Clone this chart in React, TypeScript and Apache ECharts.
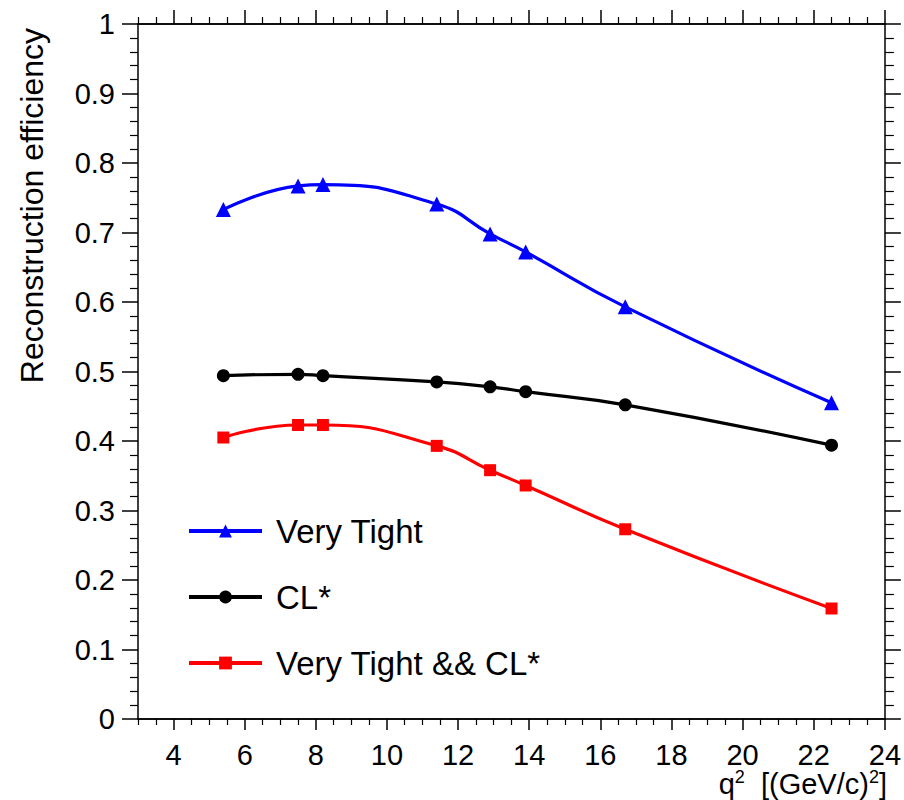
import React, { useEffect, useRef } from "react";
import * as echarts from "echarts";

const qSquared = [5.4, 7.5, 8.2, 11.4, 12.9, 13.9, 16.7, 22.5];
const veryTight = [0.733, 0.767, 0.769, 0.741, 0.698, 0.672, 0.593, 0.455];
const clStar = [0.494, 0.496, 0.494, 0.485, 0.478, 0.471, 0.452, 0.394];
const veryTightAndCl = [0.405, 0.423, 0.423, 0.393, 0.358, 0.336, 0.273, 0.159];

const seriesNames = ["Very Tight", "CL*", "Very Tight && CL*"];
const xMajorTicks = [4, 6, 8, 10, 12, 14, 16, 18, 20, 22, 24];
const xMinorTicks: number[] = [3, 3.5, 4.5, 5, 5.5, 6.5, 7, 7.5, 8.5, 9, 9.5, 10.5, 11, 11.5, 12.5, 13, 13.5, 14.5, 15, 15.5, 16.5, 17, 17.5, 18.5, 19, 19.5, 20.5, 21, 21.5, 22.5, 23, 23.5];

const FONT = "Liberation Sans, Arial, Helvetica, sans-serif";

export default function App() {
  const ref = useRef<HTMLDivElement>(null);
  useEffect(() => {
    if (!ref.current) return;
    const chart = echarts.init(ref.current, undefined, { renderer: "svg" });
    const axisLine = { show: true, lineStyle: { color: "#000", width: 1.5 } };
    const pair = (xs: number[], ys: number[]) => xs.map((x, i) => [x, ys[i]]);
    const xAxisBase = {
      type: "value",
      min: 3,
      max: 24,
      splitLine: { show: false },
      axisLine,
    };
    chart.setOption({
      animation: false,
      backgroundColor: "#fff",
      textStyle: { fontFamily: FONT },
      grid: { left: 138, right: 18, top: 24, bottom: 81, containLabel: false },
      xAxis: [
        {
          ...xAxisBase,
          position: "bottom",
          axisTick: { show: true, length: 11, lineStyle: { color: "#000", width: 1.5 }, customValues: xMajorTicks },
          axisLabel: { show: true, customValues: xMajorTicks, fontSize: 29, color: "#000", margin: 21, fontFamily: FONT },
        },
        {
          ...xAxisBase,
          position: "bottom",
          axisTick: { show: true, length: 6, lineStyle: { color: "#000", width: 1.2 }, customValues: xMinorTicks },
          axisLabel: { show: false },
        },
        {
          ...xAxisBase,
          position: "top",
          axisTick: { show: true, length: 14, lineStyle: { color: "#000", width: 1.5 }, customValues: xMajorTicks },
          axisLabel: { show: false },
        },
        {
          ...xAxisBase,
          position: "top",
          axisTick: { show: true, length: 7, lineStyle: { color: "#000", width: 1.2 }, customValues: xMinorTicks },
          axisLabel: { show: false },
        },
      ],
      yAxis: [
        {
          type: "value",
          position: "left",
          min: 0,
          max: 1,
          interval: 0.1,
          splitLine: { show: false },
          axisLine,
          axisTick: { show: true, length: 16, lineStyle: { color: "#000", width: 1.5 } },
          minorTick: { show: true, splitNumber: 5, length: 8, lineStyle: { color: "#000", width: 1.2 } },
          axisLabel: { fontSize: 29, color: "#000", margin: 23, fontFamily: FONT },
        },
        {
          type: "value",
          position: "right",
          min: 0,
          max: 1,
          interval: 0.1,
          splitLine: { show: false },
          axisLine,
          axisTick: { show: true, length: 16, lineStyle: { color: "#000", width: 1.5 } },
          minorTick: { show: true, splitNumber: 5, length: 9, lineStyle: { color: "#000", width: 1.2 } },
          axisLabel: { show: false },
        },
      ],
      legend: {
        orient: "vertical",
        left: 182,
        top: 508,
        itemWidth: 73,
        itemHeight: 16,
        itemGap: 30,
        lineStyle: { width: 4 },
        textStyle: { fontSize: 33, color: "#000", fontFamily: FONT, lineHeight: 36, padding: [0, 0, 0, 9] },
        data: seriesNames,
      },
      series: [
        {
          name: seriesNames[0],
          type: "line",
          smooth: 0.5,
          data: pair(qSquared, veryTight),
          symbol: "triangle",
          symbolSize: 15,
          color: "#0000ff",
          lineStyle: { width: 3.2, color: "#0000ff" },
          itemStyle: { color: "#0000ff" },
        },
        {
          name: seriesNames[1],
          type: "line",
          smooth: 0.5,
          data: pair(qSquared, clStar),
          symbol: "circle",
          symbolSize: 13,
          color: "#000000",
          lineStyle: { width: 3.2, color: "#000000" },
          itemStyle: { color: "#000000" },
        },
        {
          name: seriesNames[2],
          type: "line",
          smooth: 0.5,
          data: pair(qSquared, veryTightAndCl),
          symbol: "rect",
          symbolSize: 12,
          color: "#ff0000",
          lineStyle: { width: 3.2, color: "#ff0000" },
          itemStyle: { color: "#ff0000" },
        },
      ],
      graphic: [
        {
          type: "text",
          x: 32,
          y: 28,
          rotation: Math.PI / 2,
          style: {
            text: "Reconstruction efficiency",
            fontSize: 32,
            fontFamily: FONT,
            fill: "#000",
            align: "right",
            verticalAlign: "middle",
          },
        },
        {
          type: "text",
          right: 17,
          top: 768,
          style: {
            text: "{m|q}{s|2}{m|  [(GeV/c)}{s|2}{m|]}",
            fontFamily: FONT,
            fill: "#000",
            rich: {
              m: { fontSize: 29, fontFamily: FONT, fill: "#000", lineHeight: 30, verticalAlign: "bottom" },
              s: { fontSize: 18, fontFamily: FONT, fill: "#000", lineHeight: 30, verticalAlign: "top" },
            },
          },
        },
      ],
    });
    return () => chart.dispose();
  }, []);
  return <div ref={ref} style={{ position: "absolute", left: 0, top: 0, width: 904, height: 800 }} />;
}
